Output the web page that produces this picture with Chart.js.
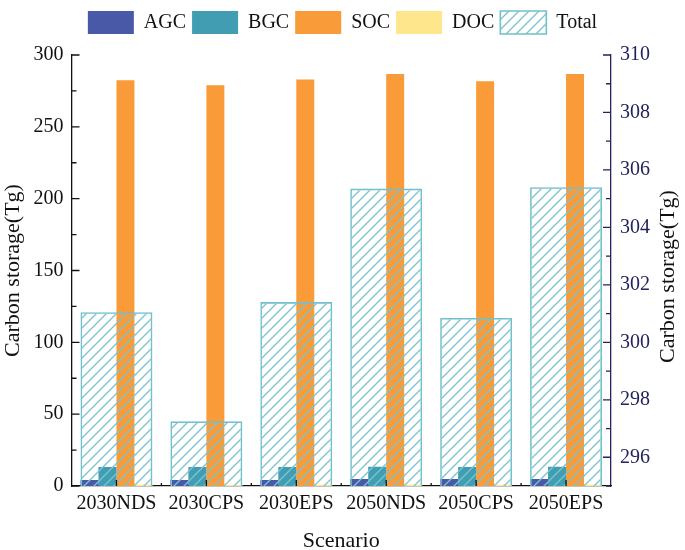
<!DOCTYPE html>
<html>
<head>
<meta charset="utf-8">
<script src="https://cdn.jsdelivr.net/npm/chart.js@4.4.0/dist/chart.umd.min.js"></script>
<style>
  html, body { margin: 0; padding: 0; background: #fff; }
</style>
</head>
<body>
<canvas id="chart" width="685" height="550"></canvas>
<script>
// values (Tg)
const scenarios = ['2030NDS', '2030CPS', '2030EPS', '2050NDS', '2050CPS', '2050EPS'];
const agc = [4.2, 4.2, 4.2, 4.8, 4.8, 4.8];
const bgc = [13.2, 13.2, 13.2, 13.4, 13.3, 13.4];
const soc = [282.5, 279.0, 283.0, 286.7, 281.8, 286.7];
const doc = [0.8, 0.7, 0.8, 0.9, 0.8, 0.9];
const total = [301.05, 297.25, 301.4, 305.35, 300.85, 305.4];   // right axis

const serif = 'Liberation Serif, Times New Roman, serif';
const navy = '#23235e';
const yTitle = 'Carbon storage(Tg)';

const canvas = document.getElementById('chart');
const ctx = canvas.getContext('2d');

// diagonal hatch for the Total bars
function hatch(color) {
    const s = 10;
    const c = document.createElement('canvas');
    c.width = s; c.height = s;
    const g = c.getContext('2d');
    g.strokeStyle = color;
    g.lineWidth = 1.35;
    g.beginPath();
    g.moveTo(0, s); g.lineTo(s, 0);
    g.moveTo(-s / 2, s / 2); g.lineTo(s / 2, -s / 2);
    g.moveTo(s / 2, s * 1.5); g.lineTo(s * 1.5, s / 2);
    g.stroke();
    return ctx.createPattern(c, 'repeat');
}

// inward tick marks, Origin style (major + minor), and the right title read bottom-up
const axisExtras = {
    id: 'axisExtras',
    afterLayout(chart) {
        // legend sits closer to the top edge than Chart.js puts it
        if (chart.legend) { chart.legend.top -= 11; chart.legend.bottom -= 11; }
    },
    afterDraw(chart) {
        const { ctx, chartArea: a, scales } = chart;
        ctx.save();
        ctx.lineWidth = 1.3;
        ctx.strokeStyle = '#111';
        ctx.beginPath();
        scales.y.ticks.forEach(t => {
            const y = scales.y.getPixelForValue(t.value);
            const len = t.value % 50 === 0 ? 8 : 5;
            ctx.moveTo(a.left, y); ctx.lineTo(a.left + len, y);
        });
        const x = scales.x;
        for (let i = 0; i < scenarios.length; i++) {
            const px = x.getPixelForValue(i);
            ctx.moveTo(px, a.bottom); ctx.lineTo(px, a.bottom - 6);
            if (i > 0) {
                const mid = (px + x.getPixelForValue(i - 1)) / 2;
                ctx.moveTo(mid, a.bottom); ctx.lineTo(mid, a.bottom - 3);
            }
        }
        ctx.stroke();
        ctx.strokeStyle = navy;
        ctx.beginPath();
        scales.y1.ticks.forEach(t => {
            const y = scales.y1.getPixelForValue(t.value);
            const len = t.value % 2 === 0 ? 8 : 5;
            ctx.moveTo(a.right, y); ctx.lineTo(a.right - len, y);
        });
        ctx.stroke();

        ctx.translate(668, (a.top + a.bottom) / 2 + 6);
        ctx.rotate(-Math.PI / 2);
        ctx.fillStyle = '#111';
        ctx.font = '22px ' + serif;
        ctx.textAlign = 'center';
        ctx.textBaseline = 'middle';
        ctx.fillText(yTitle, 0, 0);
        ctx.restore();
    }
};

new Chart(ctx, {
    type: 'bar',
    data: {
        labels: scenarios,
        datasets: [
            { label: 'AGC', data: agc, backgroundColor: '#4a59a7', yAxisID: 'y' },
            { label: 'BGC', data: bgc, backgroundColor: '#409db2', yAxisID: 'y' },
            { label: 'SOC', data: soc, backgroundColor: '#f99b38', yAxisID: 'y' },
            { label: 'DOC', data: doc, backgroundColor: '#fee68c', yAxisID: 'y' },
            {
                label: 'Total', data: total, yAxisID: 'y1',
                grouped: false, order: -1,
                backgroundColor: hatch('#7bc4cf'),
                borderColor: '#72c0cb', borderWidth: 1.6
            }
        ]
    },
    options: {
        responsive: false,
        animation: false,
        datasets: { bar: { categoryPercentage: 0.8, barPercentage: 1 } },
        plugins: {
            tooltip: { enabled: false },
            legend: {
                labels: {
                    boxWidth: 46, boxHeight: 23, padding: 6,
                    color: '#111', font: { family: serif, size: 20 },
                    sort: (a, b) => a.datasetIndex - b.datasetIndex
                }
            }
        },
        scales: {
            x: {
                grid: { display: false, drawTicks: false },
                border: { color: '#111', width: 1.3 },
                ticks: { color: '#111', font: { family: serif, size: 20 }, padding: 6, maxRotation: 0, autoSkip: false },
                title: { display: true, text: 'Scenario', color: '#111', font: { family: serif, size: 22, lineHeight: 0.8 }, padding: 0 },
                afterFit(s) { s.height = 64; }
            },
            y: {
                position: 'left', min: 0, max: 300,
                grid: { display: false, drawTicks: false },
                border: { color: '#111', width: 1.3 },
                ticks: {
                    stepSize: 25, autoSkip: false, maxTicksLimit: 40, padding: 8,
                    color: '#111', font: { family: serif, size: 20 },
                    callback: v => (v % 50 === 0 ? v : '')
                },
                title: { display: true, text: yTitle, color: '#111', font: { family: serif, size: 22, lineHeight: 1 }, padding: { top: 2.5, bottom: 0 } },
                afterFit(s) { s.width = 71.5; s.paddingTop = 55; }
            },
            y1: {
                position: 'right', min: 295, max: 310,
                grid: { display: false, drawTicks: false },
                border: { color: navy, width: 1.3 },
                ticks: {
                    stepSize: 1, autoSkip: false, maxTicksLimit: 40, padding: 9,
                    color: navy, font: { family: serif, size: 20 },
                    callback: v => (v % 2 === 0 ? v : '')
                },
                afterFit(s) { s.width = 74; s.paddingTop = 55; }
            }
        }
    },
    plugins: [axisExtras]
});
</script>
</body>
</html>
